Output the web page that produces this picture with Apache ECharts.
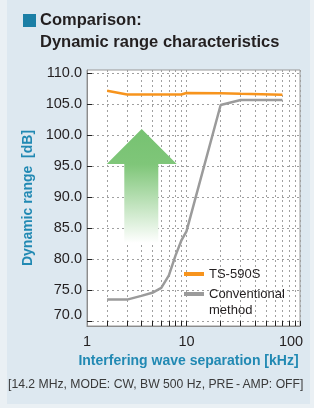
<!DOCTYPE html>
<html><head><meta charset="utf-8">
<script src="https://cdn.jsdelivr.net/npm/echarts@6/dist/echarts.min.js"></script>
<style>
html,body{margin:0;padding:0;background:#eaf0f4;}
#panel{position:absolute;left:7px;top:0;width:303px;height:404px;background:#dde8f0;}
#chart{position:absolute;left:0;top:0;width:314px;height:408px;}
</style></head><body>
<div id="panel"></div><div id="chart"></div>
<script>
const titleLines = ['Comparison:', 'Dynamic range characteristics'];
const yAxisName = 'Dynamic range  [dB]';
const xAxisName = 'Interfering wave separation [kHz]';
const footnote = '[14.2 MHz, MODE: CW, BW 500 Hz, PRE\u2009-\u2009AMP: OFF]';
const seriesNames = ['TS-590S', 'Conventional method'];
const tsX = [2, 3, 5, 9, 10, 20, 30, 70];
const tsY = [107.2, 106.6, 106.6, 106.6, 106.85, 106.8, 106.7, 106.55];
const convX = [2, 3, 4, 5, 6, 7, 8, 9, 10, 20, 30, 70];
const convY = [73.5, 73.5, 74.1, 74.6, 75.4, 77.4, 80.6, 83.0, 84.5, 104.9, 105.7, 105.7];
const yTicks = [70, 75, 80, 85, 90, 95, 100, 105, 110];
const xTicks = [2, 3, 4, 5, 6, 7, 8, 9, 10, 20, 30, 40, 50, 60, 70, 80, 90, 100];
const xLabels = ['1', '10', '100'];

const xMin = 1.33, xMax = 100, yMin = 69.24, yMax = 110.55;
const xLabelValues = [xMin * 1.002, 10, 100];

const FONT = 'Liberation Sans';
const TEAL = '#2189b3';
const ORANGE = '#f7941d';
const GRAY = '#9b9b9b';

function xLabelIndex(v) {
  let best = 0, bd = Infinity;
  xLabelValues.forEach((t, i) => {
    const d = Math.abs(Math.log10(t) - Math.log10(v));
    if (d < bd) { bd = d; best = i; }
  });
  return best;
}

const chart = echarts.init(document.getElementById('chart'), null, {renderer: 'canvas'});
chart.setOption({
  animation: false,
  textStyle: {fontFamily: FONT},
  title: [
    {text: titleLines[0], left: 40, top: 12, padding: 0,
     textStyle: {fontSize: 16.5, fontWeight: 'bold', color: '#231f20', fontFamily: FONT}},
    {text: titleLines[1], left: 40, top: 34, padding: 0,
     textStyle: {fontSize: 16.5, fontWeight: 'bold', color: '#231f20', fontFamily: FONT}},
    {text: footnote, left: 8, top: 379, padding: 0,
     textStyle: {fontSize: 12.2, fontWeight: 'normal', color: '#3a3a3a', fontFamily: FONT}}
  ],
  graphic: [
    {type: 'rect', left: 23, top: 14, z: 10, shape: {width: 13, height: 13}, style: {fill: '#1b7fa6'}},
    {type: 'polygon', z: 1,
     shape: {points: [[141.7,129],[176.7,164],[158.3,164],[158.3,243],[124.3,243],[124.3,164],[106.7,164]]},
     style: {fill: new echarts.graphic.LinearGradient(0, 0, 0, 1, [
       {offset: 0, color: '#76c271'},
       {offset: 0.31, color: '#7fc679'},
       {offset: 0.36, color: '#88ca82'},
       {offset: 1, color: '#ffffff'}
     ])}}
  ],
  legend: [
    {data: [seriesNames[0]], left: 184, top: 266, padding: 0, orient: 'vertical',
     icon: 'rect', itemWidth: 20, itemHeight: 4,
     textStyle: {fontSize: 13, color: '#231f20', fontFamily: FONT, lineHeight: 16}},
    {data: [seriesNames[1]], left: 184, top: 270, padding: 0, orient: 'vertical',
     icon: 'rect', itemWidth: 20, itemHeight: 4,
     formatter: n => '\n' + n.replace(' ', '\n'),
     textStyle: {fontSize: 13, color: '#231f20', fontFamily: FONT, lineHeight: 16}}
  ],
  grid: {left: 87, right: 14, top: 70, bottom: 82, show: true, backgroundColor: '#ffffff',
         borderColor: '#999999', borderWidth: 1},
  xAxis: {
    type: 'log', logBase: 10, min: xMin, max: xMax,
    name: xAxisName, nameLocation: 'middle', nameGap: 28,
    nameTextStyle: {color: TEAL, fontSize: 14, fontWeight: 'bold', fontFamily: FONT, padding: [0, 10, 0, 0]},
    axisLine: {lineStyle: {color: '#8c8c8c', width: 1}},
    axisTick: {show: true, inside: true, length: 5, customValues: xTicks, lineStyle: {color: '#222'}},
    axisLabel: {customValues: xLabelValues, margin: 8, fontSize: 14.5, color: '#231f20', fontFamily: FONT,
      formatter: v => {
        const i = xLabelIndex(v);
        return i === xLabels.length - 1 ? '{end|' + xLabels[i] + '}' : xLabels[i];
      },
      rich: {end: {padding: [0, 18, 0, 0], fontSize: 14.5, color: '#231f20', fontFamily: FONT}}},
    splitLine: {show: true, lineStyle: {color: '#a0a0a0', type: [2, 3], width: 1}},
    minorTick: {show: false}, minorSplitLine: {show: false}
  },
  yAxis: {
    type: 'value', min: yMin, max: yMax,
    name: yAxisName, nameLocation: 'middle', nameGap: 51,
    nameTextStyle: {color: TEAL, fontSize: 14, fontWeight: 'bold', fontFamily: FONT},
    axisLine: {show: true, lineStyle: {color: '#8c8c8c', width: 1}},
    axisTick: {show: true, inside: true, length: 5, customValues: yTicks, lineStyle: {color: '#222'}},
    axisLabel: {customValues: yTicks, margin: 5, fontSize: 14.5, color: '#231f20', fontFamily: FONT,
      formatter: v => Math.abs(v - yTicks[0]) < 1e-6 ? '{low|' + v.toFixed(1) + '}' : v.toFixed(1),
      rich: {low: {padding: [0, 0, 12, 0], fontSize: 14.5, color: '#231f20', fontFamily: FONT}}},
    splitLine: {show: true, lineStyle: {color: '#a0a0a0', type: [2, 3], width: 1}}
  },
  series: [
    {name: seriesNames[0], type: 'line', showSymbol: false, symbol: 'none', z: 4,
     color: ORANGE, lineStyle: {color: ORANGE, width: 2.5},
     data: tsX.map((x, i) => [x, tsY[i]])},
    {name: seriesNames[1], type: 'line', showSymbol: false, symbol: 'none', z: 3,
     color: GRAY, lineStyle: {color: GRAY, width: 2.5},
     data: convX.map((x, i) => [x, convY[i]])}
  ]
});
</script></body></html>
